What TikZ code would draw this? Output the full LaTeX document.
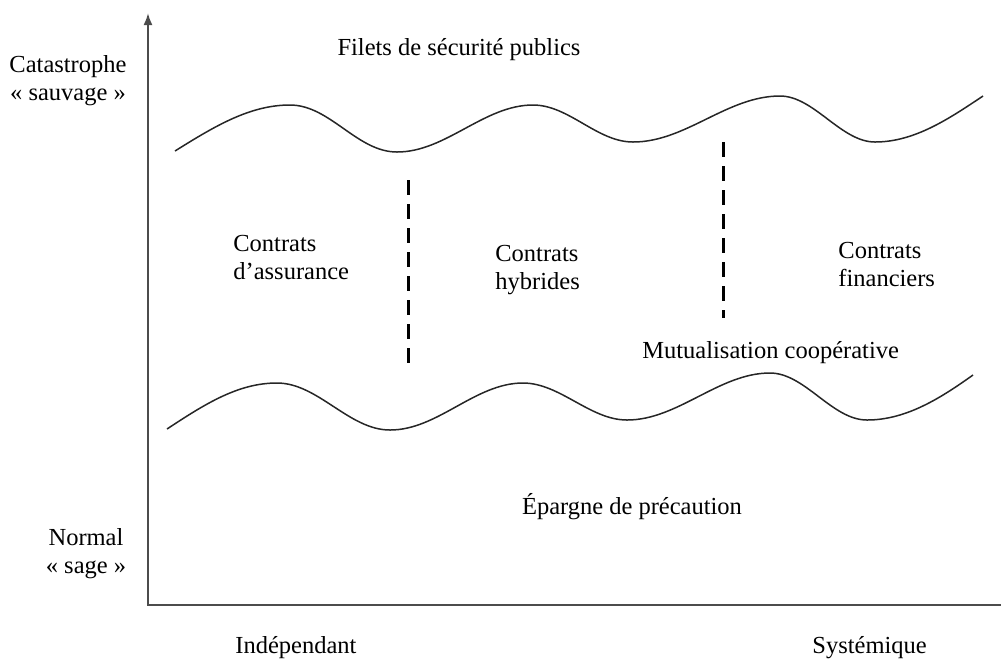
\documentclass[tikz,border=0pt]{standalone}
\usepackage{fontspec}
\setmainfont{Liberation Serif}
\usetikzlibrary{arrows.meta}
\begin{document}
\begin{tikzpicture}[x=0.5pt,y=-0.5pt,
  lbl/.style={inner sep=0pt,font=\fontsize{12.25}{14}\selectfont},
  wave/.style={line width=0.75pt,black!85},
  axis/.style={line width=1pt,black!70},
  sep/.style={line width=1.5pt,dash pattern=on 7.5pt off 4.5pt}]
\useasboundingbox (0,0) rectangle (1001,661);
% axes
\coordinate (top) at (148,13);
\coordinate (O) at (148,605);
\coordinate (xend) at (1001,605);
\draw[axis,{Latex[length=6pt,width=4.5pt]}-] (top) -- (O) -- (xend);
% upper wave
\draw[wave] (175,151) .. controls (215,126) and (250,105) .. (290,105)
  .. controls (330,105) and (357,152) .. (397,152)
  .. controls (446,152) and (484,105) .. (533,105)
  .. controls (569,105) and (597,142) .. (633,142)
  .. controls (686,142) and (727,96) .. (780,96)
  .. controls (814,96) and (841,142) .. (875,142)
  .. controls (915,142) and (950,118) .. (983,96);
% lower wave
\draw[wave] (167,429) .. controls (205,404) and (238,383) .. (277,383)
  .. controls (318,383) and (349,430) .. (390,430)
  .. controls (438,430) and (475,383) .. (523,383)
  .. controls (560,383) and (590,420) .. (627,420)
  .. controls (678,420) and (719,373) .. (770,373)
  .. controls (805,373) and (832,420) .. (867,420)
  .. controls (907,420) and (942,397) .. (973,375);
% dashed separators
\coordinate (d1a) at (408,180);
\coordinate (d1b) at (408,363);
\coordinate (d2a) at (723,142);
\coordinate (d2b) at (723,318);
\draw[sep] (d1a) -- (d1b);
\draw[sep] (d2a) -- (d2b);
% labels
\node[lbl,anchor=north,align=center] (cat) at (68,55) {Catastrophe\\« sauvage »};
\node[lbl,anchor=north,align=center] (norm) at (86,528) {Normal\\« sage »};
\node[lbl,anchor=base] (filets) at (459,55) {Filets de sécurité publics};
\node[lbl,anchor=north west,align=left] (ass) at (233,235) {Contrats\\d’assurance};
\node[lbl,anchor=north west,align=left] (hyb) at (495,245) {Contrats\\hybrides};
\node[lbl,anchor=north west,align=left] (fin) at (838,242) {Contrats\\financiers};
\node[lbl,anchor=base west] (mut) at (642,358) {Mutualisation coopérative};
\node[lbl,anchor=base] (epa) at (632,514) {Épargne de précaution};
\node[lbl,anchor=base west] (ind) at (235,653) {Indépendant};
\node[lbl,anchor=base west] (sys) at (812,653) {Systémique};
\end{tikzpicture}
\end{document}
